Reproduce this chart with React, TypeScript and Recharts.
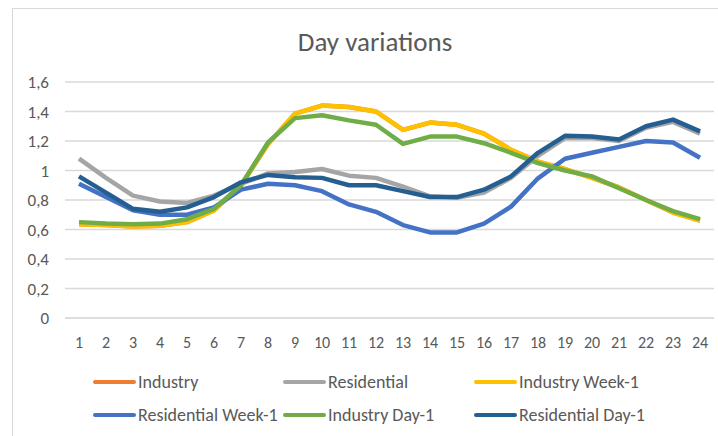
import React from 'react';
import { LineChart, Line, XAxis, YAxis, CartesianGrid, Legend } from 'recharts';

const hours = ['1', '2', '3', '4', '5', '6', '7', '8', '9', '10', '11', '12', '13', '14', '15', '16', '17', '18', '19', '20', '21', '22', '23', '24'];

// hidden under Industry Week-1 in the picture
const industry = [0.635, 0.63, 0.62, 0.625, 0.65, 0.73, 0.9, 1.18, 1.385, 1.44, 1.43, 1.4, 1.275, 1.325, 1.31, 1.25, 1.14, 1.06, 1.01, 0.95, 0.885, 0.8, 0.715, 0.66];
const residential = [1.08, 0.95, 0.83, 0.79, 0.78, 0.83, 0.91, 0.98, 0.99, 1.01, 0.965, 0.95, 0.89, 0.825, 0.815, 0.85, 0.95, 1.1, 1.22, 1.22, 1.2, 1.29, 1.33, 1.25];
const industryWeek1 = [0.635, 0.63, 0.62, 0.625, 0.65, 0.73, 0.9, 1.18, 1.385, 1.44, 1.43, 1.4, 1.275, 1.325, 1.31, 1.25, 1.14, 1.06, 1.01, 0.95, 0.885, 0.8, 0.715, 0.66];
const residentialWeek1 = [0.91, 0.82, 0.73, 0.7, 0.7, 0.75, 0.87, 0.91, 0.9, 0.86, 0.77, 0.72, 0.63, 0.58, 0.58, 0.64, 0.755, 0.947, 1.08, 1.12, 1.16, 1.2, 1.19, 1.087];
const industryDay1 = [0.65, 0.64, 0.635, 0.64, 0.67, 0.74, 0.9, 1.19, 1.355, 1.375, 1.34, 1.31, 1.18, 1.23, 1.23, 1.185, 1.12, 1.05, 1.0, 0.96, 0.88, 0.8, 0.725, 0.67];
const residentialDay1 = [0.96, 0.85, 0.74, 0.72, 0.75, 0.82, 0.92, 0.97, 0.955, 0.95, 0.9, 0.9, 0.86, 0.82, 0.82, 0.87, 0.96, 1.12, 1.235, 1.23, 1.21, 1.3, 1.345, 1.265];

const yTicks = [0, 0.2, 0.4, 0.6, 0.8, 1, 1.2, 1.4, 1.6];

const series = [
  { key: 'industry', name: 'Industry', values: industry, color: '#ED7D31' },
  { key: 'residential', name: 'Residential', values: residential, color: '#A5A5A5' },
  { key: 'industryWeek1', name: 'Industry Week-1', values: industryWeek1, color: '#FFC000' },
  { key: 'residentialWeek1', name: 'Residential Week-1', values: residentialWeek1, color: '#4472C4' },
  { key: 'industryDay1', name: 'Industry Day-1', values: industryDay1, color: '#70AD47' },
  { key: 'residentialDay1', name: 'Residential Day-1', values: residentialDay1, color: '#255E91' },
];

const data = hours.map((h, i) => {
  const row: Record<string, string | number> = { hour: h };
  series.forEach((s) => { row[s.key] = s.values[i]; });
  return row;
});

const FONT = 'Carlito, Lato, sans-serif';
const TEXT = '#595959';

const colX = [93, 283, 474];

const renderLegend = () => (
  <div style={{ position: 'relative', width: 718, height: 70 }}>
    {series.map((s, i) => (
      <div
        key={s.key}
        style={{
          position: 'absolute',
          left: colX[i % 3],
          top: i < 3 ? 10 : 43,
          display: 'flex',
          alignItems: 'center',
          fontSize: 18,
          color: TEXT,
          fontFamily: FONT,
          lineHeight: '20px',
          whiteSpace: 'nowrap',
        }}
      >
        <span style={{ display: 'inline-block', width: 43, height: 4, background: s.color, borderRadius: 2, marginRight: 2 }} />
        {s.name}
      </div>
    ))}
  </div>
);

export default function App() {
  return (
    <div style={{ position: 'absolute', left: 0, top: 0, width: 718, height: 436, background: '#fff', overflow: 'hidden', fontFamily: FONT }}>
      <div style={{ position: 'absolute', left: 12, top: 8, width: 720, height: 440, borderLeft: '1px solid #d9d9d9', borderTop: '1px solid #d9d9d9' }} />
      <div style={{ position: 'absolute', left: 0, width: 750, top: 26, textAlign: 'center', fontSize: 27, color: TEXT, lineHeight: '32px' }}>
        Day variations
      </div>
      <div style={{ position: 'absolute', left: 0, top: 0 }}>
        <LineChart width={718} height={436} data={data} margin={{ top: 82, right: 4, bottom: 4, left: 0 }}>
          <CartesianGrid vertical={false} stroke="#d9d9d9" strokeWidth={1.3} />
          <XAxis
            dataKey="hour"
            interval={0}
            padding={{ left: 14, right: 14 }}
            axisLine={{ stroke: '#d9d9d9' }}
            tickLine={false}
            tickMargin={13}
            height={44}
            tick={{ fill: TEXT, fontSize: 16, fontFamily: FONT }}
          />
          <YAxis
            domain={[0, 1.6]}
            ticks={yTicks}
            width={65}
            axisLine={false}
            tickLine={false}
            tickMargin={10}
            tick={{ fill: TEXT, fontSize: 17, fontFamily: FONT }}
            tickFormatter={(v: number) => String(v).replace('.', ',')}
          />
          <Legend verticalAlign="bottom" content={renderLegend} wrapperStyle={{ height: 70 }} />
          {series.map((s) => (
            <Line
              key={s.key}
              type="linear"
              dataKey={s.key}
              name={s.name}
              stroke={s.color}
              strokeWidth={4.5}
              strokeLinejoin="round"
              dot={false}
              activeDot={false}
              isAnimationActive={false}
            />
          ))}
        </LineChart>
      </div>
    </div>
  );
}
